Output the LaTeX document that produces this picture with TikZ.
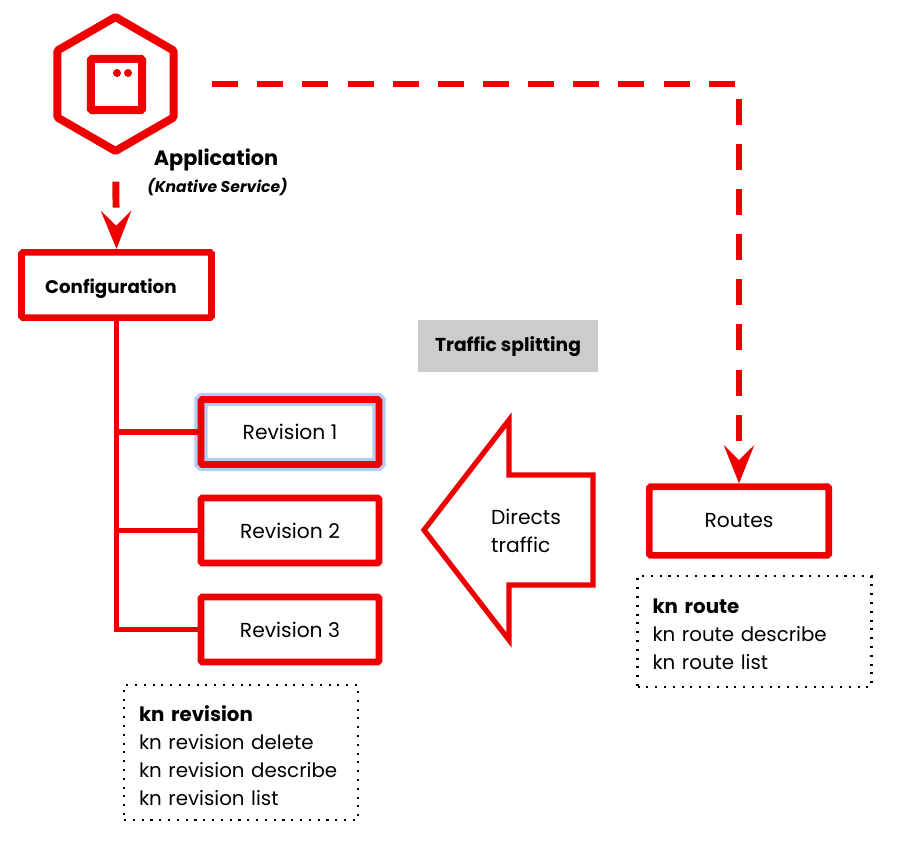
\documentclass[tikz,border=0pt]{standalone}
\usepackage{fontspec}
\setmainfont{Poppins}
\usepackage{xcolor}
\usetikzlibrary{shapes.geometric, arrows.meta, positioning, calc}
\definecolor{knred}{RGB}{238, 0, 0}
\definecolor{knblue}{RGB}{179, 205, 245}
\definecolor{kngray}{RGB}{204, 204, 204}

\begin{document}
\begin{tikzpicture}[
    x=0.75pt, y=-0.75pt,
    box/.style={rectangle, rounded corners=1pt, draw=knred,
                line width=4.9pt, minimum width=133.5pt, minimum height=48.75pt,
                align=center, font=\fontsize{15.2}{18}\selectfont},
    selected/.style={preaction={draw=knblue, line width=10pt}},
    flow/.style={draw=knred, line width=5.2pt, dash pattern=on 19.5pt off 14.35pt,
                 -{Stealth[length=28.5pt, width=22.5pt, inset=11pt]}},
    branch/.style={draw=knred, line width=4.4pt},
    cmds/.style={draw=black, line width=1.6pt, dash pattern=on 1.6pt off 5pt,
                 align=left, inner xsep=11.25pt, inner ysep=0pt, text width=153pt,
                 font=\fontsize{14.85}{21}\selectfont},
    title/.style={font=\fontsize{15.6}{20}\selectfont\bfseries}
]
    \useasboundingbox (0,0) rectangle (906,842);

    % Application icon
    \node[regular polygon, regular polygon sides=6, shape border rotate=30, draw=knred, line width=6pt,
          rounded corners=1pt, minimum size=100.5pt, inner sep=0pt] (app) at (115.5,84) {};
    \node[rectangle, draw=knred, line width=6pt, rounded corners=1pt,
          minimum size=38.5pt, inner sep=0pt] (pod) at (116.5,84.5) {};
    \node[circle, fill=knred, inner sep=0pt, minimum size=6pt] (dotl) at (117,73) {};
    \node[circle, fill=knred, inner sep=0pt, minimum size=6pt] (dotr) at (128,73) {};
    \node[title] (apptitle) at (216,160) {Application};
    \node[font=\fontsize{11.7}{14}\selectfont\bfseries\itshape] (appsub) at (217.5,187) {(Knative Service)};

    % Boxes
    \node[box, minimum width=142.5pt, minimum height=49pt, text width=107pt, align=left,
          font=\fontsize{13.7}{18}\selectfont\bfseries] (config) at (116.5,285) {\raisebox{-3pt}[\height][\depth]{Configuration}};
    \node[box, selected] (rev1) at (290,432) {Revision 1};
    \node[box] (rev2) at (290,530.5) {Revision 2};
    \node[box] (rev3) at (290,629.5) {Revision 3};
    \node[box, minimum width=134.6pt, minimum height=51.4pt] (routes) at (739,521) {Routes};
    \node[fill=kngray, minimum width=135pt, minimum height=39pt, inner sep=0pt,
          font=\fontsize{14}{18}\selectfont\bfseries] (split) at (508,346) {\raisebox{-0.75pt}[\height][\depth]{Traffic splitting}};

    % Directs traffic arrow
    \draw[draw=knred, line width=3.9pt, line join=miter]
        (424,530) -- (509,420) -- (509,475) -- (593,475) -- (593,585) -- (509,585) -- (509,640) -- cycle;
    \node[align=left, font=\fontsize{15.2}{21}\selectfont] (directs) at (526,531) {Directs\\traffic};

    % Dashed flows
    \draw[flow, shorten <=26pt] (app.east) -| (routes.north);
    \draw[flow, shorten <=19.5pt] (app.south) -- (config.north);

    % Revision tree
    \draw[branch] (config.south) |- (rev3.west);
    \draw[branch] (config.south) |- (rev1.west);
    \draw[branch] (config.south) |- (rev2.west);

    % Command lists
    \node[cmds, minimum height=101pt] (revcmds) at (241,752.5) {\rule{0pt}{17pt}\textbf{kn revision}\\kn revision delete\\kn revision describe\\kn revision list};
    \node[cmds, minimum height=83pt] (routecmds) at (754.5,631.5) {\rule{0pt}{15.5pt}\textbf{kn route}\\kn route describe\\kn route list};
\end{tikzpicture}
\end{document}
